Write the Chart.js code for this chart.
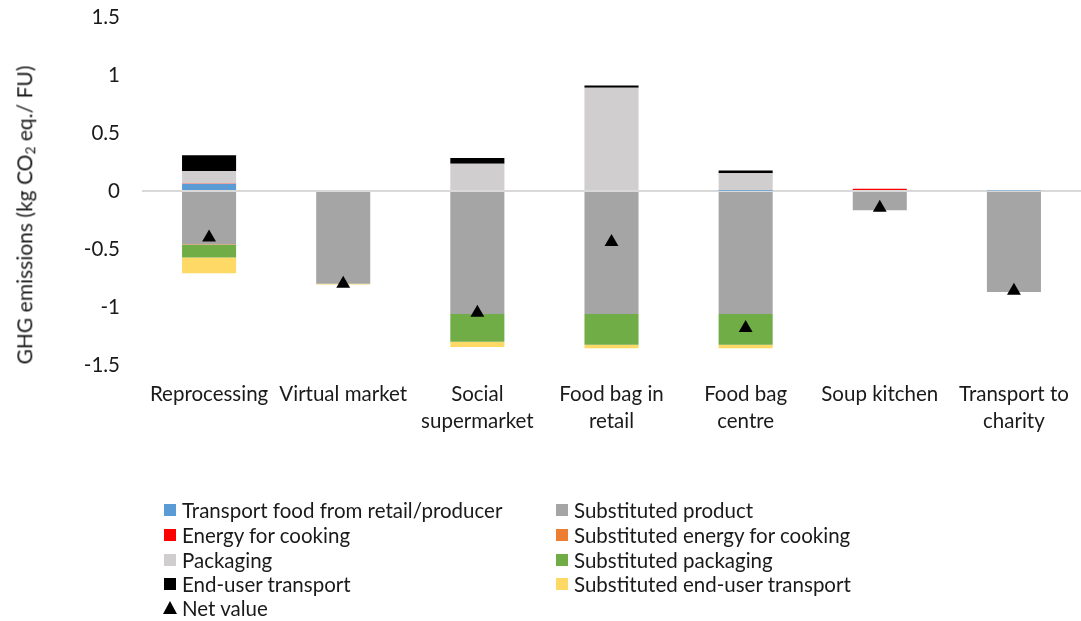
<!DOCTYPE html>
<html>
<head>
<meta charset="utf-8">
<script src="https://cdn.jsdelivr.net/npm/chart.js@4.4.1/dist/chart.umd.min.js"></script>
<style>
  html, body { margin: 0; padding: 0; background: #fff; overflow: hidden; }
  #wrap { position: relative; width: 1081px; height: 621px; }
  canvas { position: absolute; left: 0; top: 0; }
  #legend { position: absolute; left: 0; top: 0; font-family: Lato, "Liberation Sans", sans-serif; font-size: 20.5px; color: #1a1a1a; }
  .item { position: absolute; white-space: nowrap; line-height: 20px; }
  .box { position: absolute; width: 12px; height: 12px; top: 4px; left: 0; }
  .tri { position: absolute; width: 14px; height: 13px; top: 3px; left: -1px; background: #000; clip-path: polygon(50% 0, 100% 100%, 0 100%); }
  .txt { position: absolute; left: 18px; top: 0; }
  #ytitle { position: absolute; left: 25px; top: 215px; transform: translate(-50%, -50%) rotate(-90deg);
            white-space: nowrap; font-family: Lato, "Liberation Sans", sans-serif; font-size: 21px; color: #1a1a1a; }
  #ytitle sub { font-size: 0.65em; vertical-align: -0.25em; }
</style>
</head>
<body>
<div id="wrap">
  <canvas id="c" width="1081" height="621"></canvas>
  <div id="ytitle">GHG emissions (kg CO<sub>2</sub> eq./ FU)</div>
  <div id="legend"></div>
</div>
<script>
const categories = ["Reprocessing", "Virtual market", ["Social", "supermarket"], ["Food bag in", "retail"], ["Food bag", "centre"], "Soup kitchen", ["Transport to", "charity"]];

const transportFood       = [0.06, 0, 0, 0, 0.003, 0, 0.004];
const energyCooking       = [0.003, 0, 0, 0, 0, 0.02, 0];
const packaging           = [0.11, 0, 0.235, 0.89, 0.15, 0, 0];
const endUserTransport    = [0.135, 0, 0.05, 0.02, 0.023, 0, 0];
const substitutedProduct  = [-0.46, -0.80, -1.06, -1.06, -1.06, -0.165, -0.87];
const substitutedEnergy   = [-0.003, 0, 0, 0, 0, 0, 0];
const substitutedPackaging= [-0.11, 0, -0.24, -0.265, -0.265, 0, 0];
const substitutedEndUser  = [-0.135, -0.005, -0.045, -0.03, -0.03, 0, 0];
const netValue            = [-0.40, -0.80, -1.05, -0.44, -1.18, -0.145, -0.86];

const yTicks = [-1.5, -1, -0.5, 0, 0.5, 1, 1.5];

const FONT = 'Lato, "Liberation Sans", sans-serif';
const TXT = '#1a1a1a';

function bar(label, data, color) {
  return { type: 'bar', label, data, backgroundColor: color, borderWidth: 0, stack: 'bars', order: 1,
           barPercentage: 1.0, categoryPercentage: 0.403 };
}

const datasets = [
  bar('Transport food from retail/producer', transportFood, '#5B9BD5'),
  bar('Energy for cooking', energyCooking, '#FF0000'),
  bar('Packaging', packaging, '#D0CECE'),
  bar('End-user transport', endUserTransport, '#000000'),
  bar('Substituted product', substitutedProduct, '#A5A5A5'),
  bar('Substituted energy for cooking', substitutedEnergy, '#ED7D31'),
  bar('Substituted packaging', substitutedPackaging, '#70AD47'),
  bar('Substituted end-user transport', substitutedEndUser, '#FFD966'),
  { type: 'line', label: 'Net value', data: netValue, showLine: false, stack: 'net', order: 0,
    pointStyle: 'triangle', pointRadius: 8, pointHoverRadius: 8,
    backgroundColor: '#000', borderColor: '#000', pointBorderWidth: 0 }
];

// stretch the plot area to the right edge, as in the reference
const fullWidthArea = {
  id: 'fullWidthArea',
  afterLayout(c) {
    const x = c.scales.x;
    const right = c.width;
    c.chartArea.right = right;
    c.chartArea.width = right - c.chartArea.left;
    x.right = right;
    x.width = right - x.left;
    x.configure();
  }
};

const chart = new Chart(document.getElementById('c'), {
  type: 'bar',
  data: { labels: categories, datasets },
  plugins: [fullWidthArea],
  options: {
    responsive: false,
    animation: false,
    layout: { padding: { top: 17, right: 0, left: 0, bottom: 0 } },
    plugins: { legend: { display: false }, tooltip: { enabled: false } },
    scales: {
      x: {
        stacked: true,
        grid: { display: false, drawTicks: false },
        border: { display: false },
        ticks: { color: TXT, font: { family: FONT, size: 20.5, lineHeight: 1.32 }, padding: 16, maxRotation: 0, autoSkip: false },
        afterFit(s) { s.height = 256; s.paddingLeft = 0; s.paddingRight = 0; }
      },
      y: {
        stacked: true,
        min: -1.5, max: 1.5,
        afterBuildTicks(s) { s.ticks = yTicks.map(v => ({ value: v })); },
        grid: {
          color: ctx => (ctx.tick && ctx.tick.value === 0) ? '#D9D9D9' : 'rgba(0,0,0,0)',
          lineWidth: 2,
          drawTicks: false
        },
        border: { display: false },
        ticks: { color: TXT, font: { family: FONT, size: 20.5 }, padding: 22, callback: v => String(v) },
        afterFit(s) { s.width = 142; s.paddingTop = 0; s.paddingBottom = 0; }
      }
    }
  }
});

// Legend built from chart datasets
const legendOrder = [0, 4, 1, 5, 2, 6, 3, 7, 8];
const legendEl = document.getElementById('legend');
const colX = [164, 556];
const rowY = [500, 525, 550, 574, 598];
legendOrder.forEach((di, k) => {
  const ds = chart.data.datasets[di];
  const item = document.createElement('div');
  item.className = 'item';
  item.style.left = colX[k % 2] + 'px';
  item.style.top = rowY[Math.floor(k / 2)] + 'px';
  const mark = document.createElement('div');
  if (ds.type === 'line') { mark.className = 'tri'; }
  else { mark.className = 'box'; mark.style.background = ds.backgroundColor; }
  const t = document.createElement('div');
  t.className = 'txt';
  t.textContent = ds.label;
  item.appendChild(mark); item.appendChild(t);
  legendEl.appendChild(item);
});
</script>
</body>
</html>
